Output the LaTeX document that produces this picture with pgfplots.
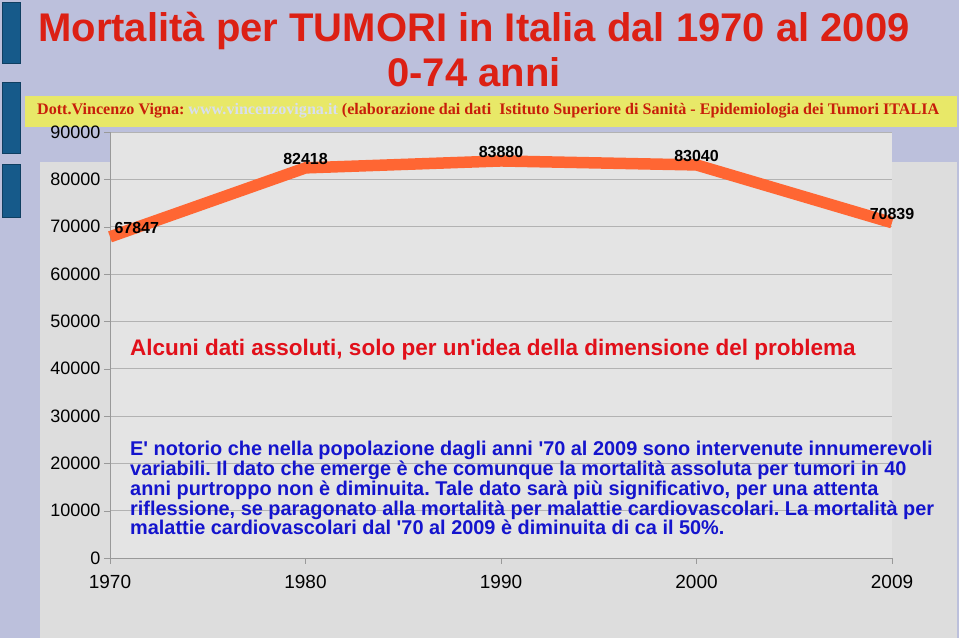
\documentclass[border=0pt]{standalone}
\usepackage{pgfplots}
\pgfplotsset{compat=1.18}
\usepackage{fontspec}
\setmainfont{Liberation Sans}[Ligatures=TeXOff]
\newfontfamily\serifb{Liberation Serif}
\frenchspacing
\definecolor{lav}{RGB}{188,192,220}
\definecolor{bluebar}{RGB}{22,90,138}
\definecolor{yel}{RGB}{232,232,104}
\definecolor{chartbg}{RGB}{221,221,221}
\definecolor{plotbg}{RGB}{228,228,228}
\definecolor{titred}{RGB}{220,32,20}
\definecolor{dotred}{RGB}{200,30,10}
\definecolor{alcred}{RGB}{225,16,26}
\definecolor{parblue}{RGB}{20,20,205}
\definecolor{lineor}{RGB}{255,102,51}
\definecolor{urlc}{RGB}{215,222,240}
\begin{document}
\begin{tikzpicture}[x=1bp,y=1bp]
\useasboundingbox (0,0) rectangle (959,643);
\fill[white] (0,0) rectangle (959,643);
\fill[lav] (0,5) rectangle (959,643);
\foreach \a/\b in {580/641,490/561,426/479}{
  \filldraw[fill=bluebar,draw=bluebar!70!black] (2,\a) rectangle (20,\b);}
\fill[yel] (25,516) rectangle (957,547);
\fill[chartbg] (40,5) rectangle (957,481);
\node[anchor=base,text=titred,font=\fontsize{40bp}{46bp}\selectfont\bfseries,inner sep=0] at (474,601) {Mortalità per TUMORI in Italia dal 1970 al 2009};
\node[anchor=base,text=titred,font=\fontsize{40bp}{46bp}\selectfont\bfseries,inner sep=0] at (474,556) {0-74 anni};
\node[anchor=base west,inner sep=0,font=\serifb\fontsize{16.1bp}{19bp}\selectfont\bfseries,text=dotred] at (37,528) {Dott.Vincenzo Vigna: \textcolor{urlc}{www.vincenzovigna.it} (elaborazione dai dati\ \ Istituto Superiore di Sanità - Epidemiologia dei Tumori ITALIA};
\begin{axis}[
  at={(110bp,85bp)}, anchor=south west,
  scale only axis, width=782bp, height=426bp,
  xmin=0, xmax=4, ymin=0, ymax=90000,
  axis background/.style={fill=plotbg},
  axis lines=left, axis line style={-,draw=gray!80},
  xtick={0,1,2,3,4}, xticklabels={1970,1980,1990,2000,2009},
  ytick={0,10000,...,90000},
  scaled y ticks=false,
  /pgf/number format/assume math mode=true,
  /pgf/number format/set thousands separator={},
  yticklabel style={font=\fontsize{18bp}{20bp}\selectfont},
  xticklabel style={font=\fontsize{19bp}{21bp}\selectfont,yshift=-8bp},
  tick align=outside, major tick length=6bp, tick style={gray!80},
  ymajorgrids, grid style={gray!60,line width=0.6bp},
  clip=false,
]
\addplot[line width=11.5bp, lineor, line join=miter] table {
x y
0 67847
1 82418
2 83880
3 83040
4 70839
};
\addplot[draw=none, mark=none, point meta=explicit symbolic, nodes near coords,
  every node near coord/.append style={font=\fontsize{16bp}{18bp}\selectfont\bfseries,text=black,anchor=center,yshift=8.5bp}]
  table[meta=lab] {
x y lab
1 82418 82418
2 83880 83880
3 83040 83040
4 70839 70839
};
\addplot[draw=none, mark=none, point meta=explicit symbolic, nodes near coords,
  every node near coord/.append style={font=\fontsize{16bp}{18bp}\selectfont\bfseries,text=black,anchor=west,xshift=1bp,yshift=8.5bp}]
  table[meta=lab] {
x y lab
0 67847 67847
};
\end{axis}
\node[anchor=base west,inner sep=0,text=alcred,font=\fontsize{22.5bp}{24bp}\selectfont\bfseries] at (130,287) {Alcuni dati assoluti, solo per un'idea della dimensione del problema};
\node[anchor=north west,inner sep=0,text=parblue,font=\fontsize{19.9bp}{18.7bp}\selectfont\bfseries,align=left] at (130,202) {E' notorio che nella popolazione dagli anni '70 al 2009 sono intervenute innumerevoli\\variabili. Il dato che emerge è che comunque la mortalità assoluta per tumori in 40\\anni purtroppo non è diminuita. Tale dato sarà più significativo, per una attenta\\riflessione, se paragonato alla mortalità per malattie cardiovascolari. La mortalità per\\malattie cardiovascolari dal '70 al 2009 è diminuita di ca il 50\%.};
\end{tikzpicture}
\end{document}
